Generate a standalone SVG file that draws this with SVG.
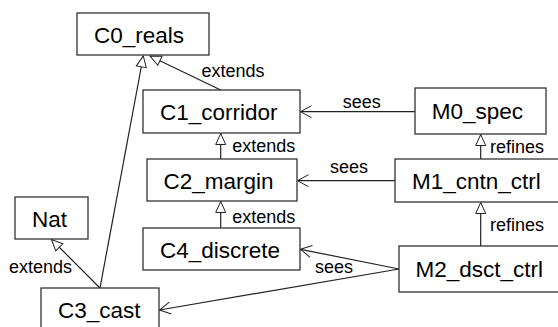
<svg xmlns="http://www.w3.org/2000/svg" width="558" height="327" viewBox="0 0 558 327">
<style>
.box{fill:#fff;stroke:#333;stroke-width:1.3}
.nl{font-family:"Liberation Sans",Arial,sans-serif;font-size:22.5px;fill:#000}
.el{font-family:"Liberation Sans",Arial,sans-serif;font-size:18px;fill:#000}
.c{fill:none;stroke:#222;stroke-width:1.2}
.ext{marker-end:url(#tri)}
.see{marker-end:url(#open)}
</style>
<defs>
<marker id="tri" markerUnits="userSpaceOnUse" markerWidth="14" markerHeight="12" refX="11" refY="5" orient="auto" viewBox="-1 -1 14 12">
<path d="M0,0 L11,5 L0,10 Z" fill="#fff" stroke="#222" stroke-width="1"/>
</marker>
<marker id="open" markerUnits="userSpaceOnUse" markerWidth="14" markerHeight="14" refX="11" refY="6" orient="auto" viewBox="-1 -1 14 14">
<path d="M0,0 L11,6 L0,12" fill="none" stroke="#222" stroke-width="1"/>
</marker>
</defs>
<g id="connectors">
<line class="c ext" x1="220.7" y1="90" x2="150" y2="56"/>
<line class="c ext" x1="100" y1="288" x2="143.3" y2="56"/>
<line class="c ext" x1="220.7" y1="159" x2="220.7" y2="133.5"/>
<line class="c ext" x1="220.7" y1="228" x2="220.7" y2="201.5"/>
<line class="c ext" x1="100" y1="288" x2="51.5" y2="239.5"/>
<line class="c see" x1="415" y1="111.7" x2="300.5" y2="111.7"/>
<line class="c see" x1="395" y1="180.7" x2="297.5" y2="180.7"/>
<line class="c ext" x1="480.7" y1="159" x2="480.7" y2="134.5"/>
<line class="c ext" x1="480.7" y1="246" x2="480.7" y2="202.5"/>
<line class="c see" x1="399" y1="269" x2="300.5" y2="249.3"/>
<line class="c see" x1="399" y1="269" x2="159.5" y2="310"/>
<text class="el" x="201.5" y="76.5">extends</text>
<text class="el" x="232.3" y="151.5">extends</text>
<text class="el" x="232.3" y="223">extends</text>
<text class="el" x="9" y="273.3">extends</text>
<text class="el" x="342.7" y="108.3">sees</text>
<text class="el" x="330" y="172.5">sees</text>
<text class="el" x="315" y="273.3">sees</text>
<text class="el" x="490" y="153.3">refines</text>
<text class="el" x="490" y="231">refines</text>
</g>
<g id="C0_reals"><rect class="box" x="77" y="13" width="132" height="42"/><text class="nl" x="94" y="42.5">C0_reals</text></g>
<g id="C1_corridor"><rect class="box" x="143" y="90" width="157" height="43"/><text class="nl" x="160" y="120">C1_corridor</text></g>
<g id="M0_spec"><rect class="box" x="415" y="88" width="131" height="46"/><text class="nl" x="431.7" y="118.5">M0_spec</text></g>
<g id="C2_margin"><rect class="box" x="147" y="159" width="150" height="42"/><text class="nl" x="163.5" y="188.5">C2_margin</text></g>
<g id="M1_cntn_ctrl"><rect class="box" x="395" y="159" width="170" height="43"/><text class="nl" x="412" y="189">M1_cntn_ctrl</text></g>
<g id="C4_discrete"><rect class="box" x="143" y="228" width="157" height="42"/><text class="nl" x="160" y="257.5">C4_discrete</text></g>
<g id="M2_dsct_ctrl"><rect class="box" x="399" y="246" width="166" height="46"/><text class="nl" x="415.5" y="277">M2_dsct_ctrl</text></g>
<g id="Nat"><rect class="box" x="15" y="197" width="73" height="42"/><text class="nl" x="32" y="226.5">Nat</text></g>
<g id="C3_cast"><rect class="box" x="41" y="288" width="118" height="50"/><text class="nl" x="58" y="317.5">C3_cast</text></g>
</svg>
